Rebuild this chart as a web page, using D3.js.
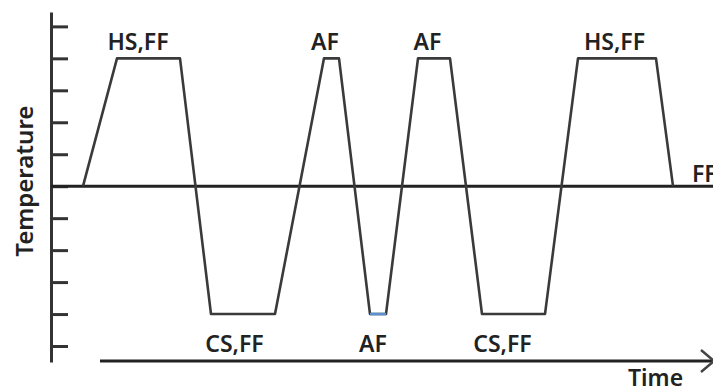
<!DOCTYPE html>
<html>
<head>
<meta charset="utf-8">
<script src="https://cdn.jsdelivr.net/npm/d3@7"></script>
<style>
  html, body { margin: 0; padding: 0; background: #fff; }
  svg { display: block; }
  text { font-family: "Noto Sans", sans-serif; font-weight: 600; fill: #222; }
</style>
</head>
<body>
<script>
// ---- data (time in arbitrary units, temperature in arbitrary units) ----
const cycleTime = [3.2, 6.6, 12.9, 16.0, 22.4, 27.3, 28.8, 31.9, 33.5, 36.7, 39.9, 43.1, 49.4, 52.7, 60.5, 62.2];
const cycleTemp = [0, 4, 4, -4, -4, 4, 4, -4, -4, 4, 4, -4, -4, 4, 4, 0];
const highlightSegment = [7, 8]; // indices of the blue bottom segment (AF)

const labelText = ["HS,FF", "AF", "AF", "HS,FF", "CS,FF", "AF", "CS,FF"];
const labelTime = [8.7, 27.4, 37.65, 56.35, 18.35, 32.2, 45.15];
const labelTemp = [4, 4, 4, 4, -4, -4, -4];

const endLabel = "FF";
const endLabelTime = 64.1;
const tempTicks = [-5, -4, -3, -2, -1, 0, 1, 2, 3, 4, 5];
const xTitle = "Time";
const yTitle = "Temperature";

// ---- layout ----
const W = 713, H = 390;
const svg = d3.select("body").append("svg").attr("width", W).attr("height", H);

const x = d3.scaleLinear().domain([0, 66]).range([51, 711]);
const y = d3.scaleLinear().domain([-5.5, 5.45]).range([362, 12]);

const stroke = "#333";

// y axis with ticks pointing right, no labels
const yAxis = d3.axisRight(y).tickValues(tempTicks).tickSize(17).tickSizeOuter(0).tickFormat("");
const gy = svg.append("g").attr("transform", `translate(${x(0)},0)`).call(yAxis);
gy.select(".domain").attr("stroke", stroke).attr("stroke-width", 3);
gy.selectAll(".tick line").attr("stroke", stroke).attr("stroke-width", 3);

// zero line
svg.append("line")
  .attr("x1", x(0)).attr("x2", W)
  .attr("y1", y(0)).attr("y2", y(0))
  .attr("stroke", "#222").attr("stroke-width", 3);

// time arrow
const ay = y(-5.47);
svg.append("line")
  .attr("x1", x(4.9)).attr("x2", W)
  .attr("y1", ay).attr("y2", ay)
  .attr("stroke", "#222").attr("stroke-width", 3);
svg.append("path")
  .attr("d", `M${W - 12},${ay - 11} L${W + 1},${ay} L${W - 12},${ay + 11}`)
  .attr("fill", "none").attr("stroke", "#444").attr("stroke-width", 2.5);

// cycle line
const pts = cycleTime.map((t, i) => [t, cycleTemp[i]]);
const line = d3.line().x(d => x(d[0])).y(d => y(d[1]));
svg.append("path")
  .attr("d", line(pts))
  .attr("fill", "none").attr("stroke", "#3a3a3a").attr("stroke-width", 2.6)
  .attr("stroke-linejoin", "round");

// blue highlighted bottom segment
svg.append("path")
  .attr("d", line(highlightSegment.map(i => pts[i])))
  .attr("fill", "none").attr("stroke", "#5b8fd0").attr("stroke-width", 2.6);

// plateau labels
svg.selectAll("text.lab").data(labelText).join("text")
  .attr("class", "lab")
  .attr("x", (d, i) => x(labelTime[i]))
  .attr("y", (d, i) => y(labelTemp[i]) + (labelTemp[i] > 0 ? -8 : 38))
  .attr("text-anchor", "middle")
  .attr("font-size", 23)
  .text(d => d);

svg.append("text")
  .attr("x", x(endLabelTime)).attr("y", y(0) - 4)
  .attr("font-size", 23)
  .text(endLabel);

// axis titles
svg.append("text")
  .attr("x", 628).attr("y", 386)
  .attr("font-size", 23)
  .text(xTitle);

svg.append("text")
  .attr("transform", `translate(33,${y(0) - 5}) rotate(-90)`)
  .attr("text-anchor", "middle")
  .attr("font-size", 24)
  .text(yTitle);
</script>
</body>
</html>
